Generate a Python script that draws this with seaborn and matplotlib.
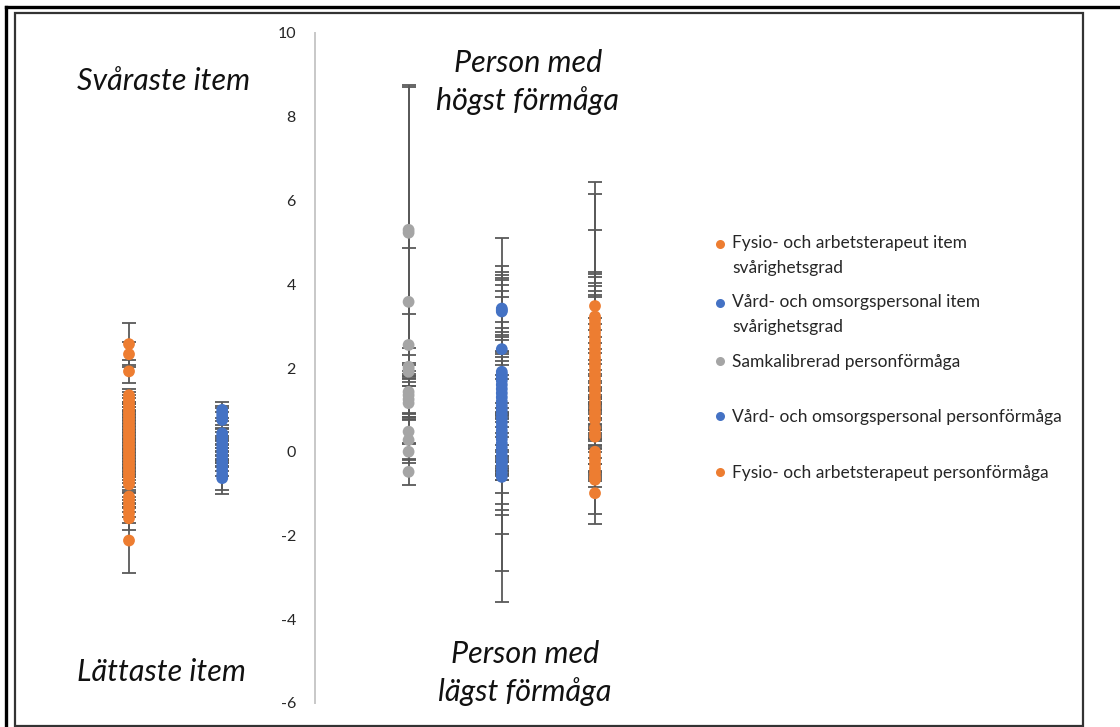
import matplotlib
matplotlib.use("Agg")
import matplotlib.pyplot as plt
from matplotlib.lines import Line2D
from matplotlib.patches import Rectangle
from matplotlib.legend_handler import HandlerLine2D
import pandas as pd
import seaborn as sns

# Series labels, their column positions and colours
series_labels = [
    "Fysio- och arbetsterapeut item\nsvårighetsgrad",
    "Vård- och omsorgspersonal item\nsvårighetsgrad",
    "Samkalibrerad personförmåga",
    "Vård- och omsorgspersonal personförmåga",
    "Fysio- och arbetsterapeut personförmåga",
]
series_positions = [1, 2, 4, 5, 6]
series_colors = ["#ED7D31", "#4472C4", "#A5A5A5", "#4472C4", "#ED7D31"]

# Item difficulty, physio/occupational therapists
fa_item_values = [2.57, 2.33, 1.92, 1.35, 1.28, 1.21, 1.14, 1.07, 1.00, 0.93,
                  0.86, 0.79, 0.72, 0.64, 0.57, 0.50, 0.43, 0.36, 0.29, 0.22,
                  0.15, 0.08, 0.01, -0.06, -0.13, -0.20, -0.27, -0.34, -0.41, -0.48,
                  -0.55, -0.62, -0.70, -0.78, -1.07, -1.16, -1.26, -1.36, -1.47, -1.59,
                  -2.12]
fa_item_errors = [0.51, 0.30, 0.28, 0.15, 0.15, 0.14, 0.14, 0.13, 0.13, 0.13,
                  0.12, 0.12, 0.12, 0.12, 0.12, 0.12, 0.12, 0.12, 0.12, 0.12,
                  0.12, 0.12, 0.12, 0.12, 0.12, 0.12, 0.12, 0.12, 0.12, 0.12,
                  0.13, 0.13, 0.14, 0.17, 0.16, 0.17, 0.19, 0.20, 0.23, 0.28,
                  0.77]

# Item difficulty, care staff
vo_item_values = [1.00, 0.92, 0.84, 0.76, 0.44, 0.36, 0.27, 0.18, 0.09, 0.00,
                  -0.09, -0.18, -0.27, -0.36, -0.45, -0.55, -0.63]
vo_item_errors = [0.19, 0.18, 0.20, 0.19, 0.10, 0.10, 0.10, 0.10, 0.10, 0.10,
                  0.10, 0.10, 0.10, 0.10, 0.12, 0.36, 0.39]

# Co-calibrated person ability
sam_person_values = [5.30, 5.23, 3.58, 2.55, 2.03, 1.97, 1.91, 1.43, 1.35, 1.25,
                     1.16, 0.48, 0.28, 0.00, -0.48]
sam_person_errors = [3.45, 3.49, 1.28, 0.74, 0.45, 0.15, 0.15, 0.50, 0.45, 0.42,
                     0.40, 0.30, 0.55, 0.20, 0.31]

# Person ability, care staff
vo_person_values = [3.42, 3.38, 3.35, 2.45, 1.91, 1.85, 1.78, 1.70, 1.60, 1.50,
                    1.40, 1.30, 1.20, 1.10, 1.00, 0.90, 0.80, 0.70, 0.60, 0.50,
                    0.40, 0.30, 0.20, 0.10, 0.00, -0.10, -0.20, -0.25, -0.30, -0.40,
                    -0.50, -0.60]
vo_person_errors = [1.68, 1.05, 0.95, 1.53, 2.30, 2.30, 2.32, 2.15, 2.10, 1.60,
                    1.55, 1.55, 1.60, 1.65, 1.67, 1.37, 1.37, 1.37, 0.45, 0.45,
                    0.40, 0.40, 0.40, 0.35, 0.35, 0.89, 1.05, 1.13, 1.21, 1.56,
                    2.34, 2.98]

# Person ability, physio/occupational therapists
fa_person_values = [3.48, 3.23, 3.15, 3.05, 2.95, 2.85, 2.75, 2.65, 2.55, 2.45,
                    2.35, 2.25, 2.15, 2.05, 1.95, 1.85, 1.75, 1.65, 1.55, 1.45,
                    1.35, 1.25, 1.15, 1.05, 0.95, 0.85, 0.76, 0.57, 0.45, 0.36,
                    0.00, -0.10, -0.20, -0.30, -0.40, -0.50, -0.60, -0.67, -0.99]
fa_person_errors = [2.95, 2.93, 2.15, 1.25, 1.30, 1.33, 1.28, 1.30, 1.30, 1.30,
                    1.35, 0.95, 0.90, 0.85, 0.80, 0.75, 0.70, 0.70, 0.65, 0.65,
                    0.60, 0.60, 0.55, 0.50, 0.50, 0.45, 0.40, 0.43, 0.36, 0.30,
                    0.30, 0.35, 0.35, 0.30, 0.25, 0.20, 1.13, 0.16, 0.50]

y_ticks = [-6, -4, -2, 0, 2, 4, 6, 8, 10]

all_values = [fa_item_values, vo_item_values, sam_person_values,
              vo_person_values, fa_person_values]
all_errors = [fa_item_errors, vo_item_errors, sam_person_errors,
              vo_person_errors, fa_person_errors]

frames = []
for label, pos, vals, errs in zip(series_labels, series_positions,
                                  all_values, all_errors):
    frames.append(pd.DataFrame({"serie": label, "x": pos,
                                "varde": vals, "fel": errs}))
df = pd.concat(frames, ignore_index=True)

sns.set_theme(style="white")
plt.rcParams["font.family"] = ["Lato", "DejaVu Sans"]
plt.rcParams["axes.unicode_minus"] = False

W, H = 1120, 727
fig = plt.figure(figsize=(W / 100, H / 100), dpi=100)
ax = fig.add_axes([35.8 / W, 1 - 703 / H, 652.4 / W, 670 / H])

# Error bars under the markers
ax.errorbar(df["x"], df["varde"], yerr=df["fel"], fmt="none",
            ecolor="#595959", elinewidth=1.3, capsize=5, capthick=1.3,
            zorder=2)

palette = dict(zip(series_labels, series_colors))
sns.scatterplot(data=df, x="x", y="varde", hue="serie", palette=palette,
                s=72, linewidth=0, alpha=1, legend=False, ax=ax, zorder=3)

ax.set_xlim(0, 7)
ax.set_ylim(-6, 10)
ax.set_yticks(y_ticks)
ax.set_yticklabels([str(t) for t in y_ticks])
ax.set_xticks([])
ax.set_xlabel("")
ax.set_ylabel("")
for side in ["top", "right", "bottom"]:
    ax.spines[side].set_visible(False)
ax.spines["left"].set_position(("data", 3))
ax.spines["left"].set_color("#c8c8c8")
ax.spines["left"].set_linewidth(1.4)
ax.tick_params(axis="y", length=0, pad=14, labelsize=11.5, colors="#262626")
ax.patch.set_alpha(0)

# Region annotations
note_kw = dict(fontsize=22, style="italic", color="#111111",
               ha="center", va="center", linespacing=1.38)
ax.text(1.376, 8.85, "Svåraste item", **note_kw)
ax.text(1.343, -5.26, "Lättaste item", **note_kw)
ax.text(5.28, 8.83, "Person med\nhögst förmåga", **note_kw)
ax.text(5.25, -5.28, "Person med\nlägst förmåga", **note_kw)


class FirstLineMarker(HandlerLine2D):
    """Puts the legend marker beside the first line of a two-line label."""

    def __init__(self, lift, **kw):
        super().__init__(**kw)
        self.lift = lift

    def create_artists(self, legend, orig_handle, xdescent, ydescent,
                       width, height, fontsize, trans):
        return super().create_artists(legend, orig_handle, xdescent,
                                      ydescent - 2 * self.lift, width, height,
                                      fontsize, trans)


# Legend, split in two blocks
handles = [Line2D([], [], marker="o", linestyle="none", color=c,
                  markersize=6.5, markeredgewidth=0) for c in series_colors]
leg_kw = dict(frameon=False, fontsize=12.5, handlelength=0.5,
              handletextpad=0.45, borderpad=0, borderaxespad=0,
              loc="upper left")
leg1 = fig.legend(handles[:3], series_labels[:3], labelspacing=1.05,
                  bbox_to_anchor=(716 / W, 1 - 235 / H),
                  handler_map={handles[0]: FirstLineMarker(8.8),
                               handles[1]: FirstLineMarker(8.8)},
                  **leg_kw)
for t in leg1.get_texts():
    t.set_linespacing(1.7)
leg2 = fig.legend(handles[3:], series_labels[3:], labelspacing=2.32,
                  bbox_to_anchor=(716 / W, 1 - 409 / H), **leg_kw)

# Frames around the chart
fig.add_artist(Rectangle((15 / W, 1 - 726 / H), (1083 - 15) / W, (726 - 13) / H,
                         transform=fig.transFigure, fill=False,
                         edgecolor="#333333", linewidth=1.6))
fig.add_artist(Line2D([6 / W, 6 / W], [0, 1 - 7 / H], transform=fig.transFigure,
                      color="black", linewidth=2.4, solid_capstyle="projecting"))
fig.add_artist(Line2D([6 / W, 1], [1 - 7 / H, 1 - 7 / H], transform=fig.transFigure,
                      color="black", linewidth=2.4, solid_capstyle="projecting"))

fig.savefig("out.png", dpi=100)
